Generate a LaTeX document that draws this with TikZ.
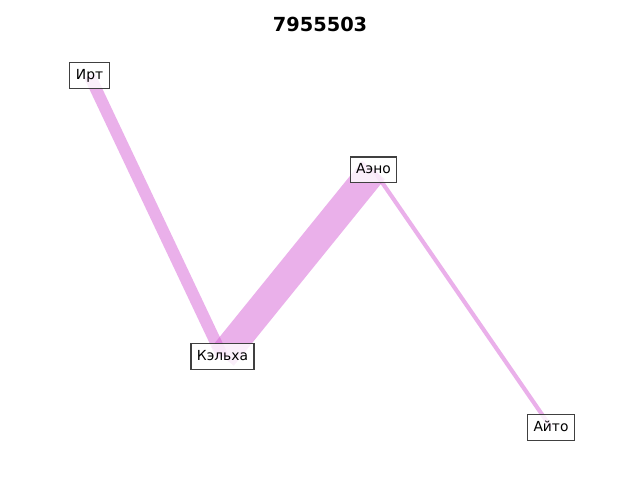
\documentclass[tikz,border=0pt]{standalone}
\usepackage{fontspec}
\setmainfont{DejaVu Sans}
\usetikzlibrary{backgrounds}
\definecolor{linkviolet}{RGB}{213,97,213}
\definecolor{boxgray}{RGB}{64,64,64}

\begin{document}
\begin{tikzpicture}[x=0.01in,y=-0.01in,
		city node/.style={draw=boxgray,line width=0.8pt,fill=white,fill opacity=0.8,text opacity=1,
			inner xsep=4.3pt,inner ysep=4.6pt,text height=7.5pt,text depth=2pt,font=\fontsize{10pt}{12pt}\selectfont},
		link/.style={draw=linkviolet,draw opacity=0.5}]
		\useasboundingbox (0,0) rectangle (640,480);

		\node[font=\fontsize{14pt}{16pt}\selectfont\bfseries] (title) at (320,24) {7955503};

		\node[city node] (irt) at (89.5,75.5) {Ирт};
		\node[city node] (kelha) at (222.5,356.5) {Кэльха};
		\node[city node] (aeno) at (373.5,170) {Аэно};
		\node[city node] (aito) at (551,427.5) {Айто};

		\begin{scope}[on background layer]
			\path[link]
			(irt.center) edge [line width=8.6pt] (kelha.center)
			(kelha.center) edge [line width=21pt] (aeno.center)
			(aeno.center) edge [line width=3pt] (aito.center);
		\end{scope}
	\end{tikzpicture}
\end{document}
